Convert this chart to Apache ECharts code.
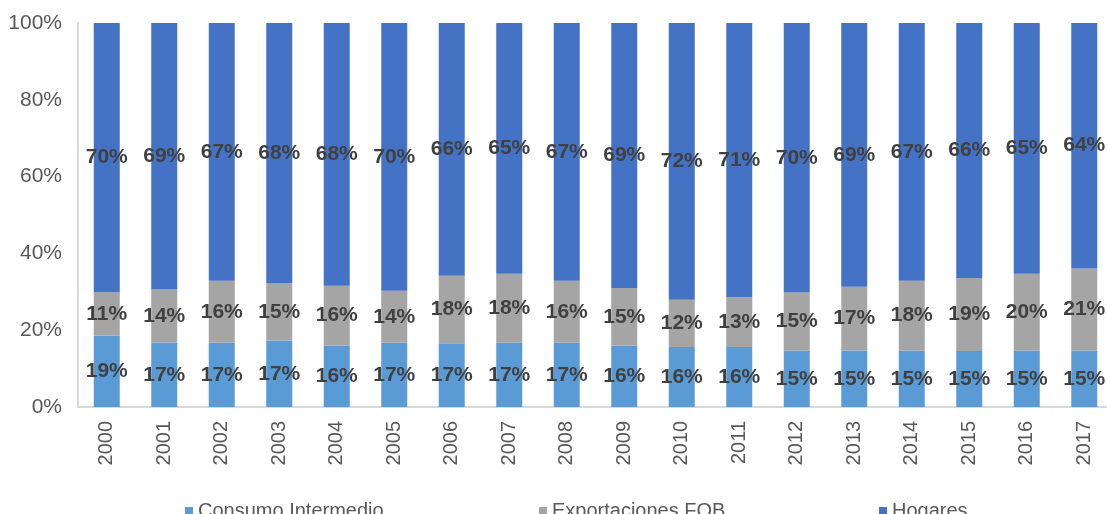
<!DOCTYPE html>
<html>
<head>
<meta charset="utf-8">
<script src="https://cdn.jsdelivr.net/npm/echarts@6/dist/echarts.min.js"></script>
<style>
  html, body { margin: 0; padding: 0; background: #fff; }
  #chart { width: 1107px; height: 514px; }
</style>
</head>
<body>
<div id="chart"></div>
<script>
const years = ['2000', '2001', '2002', '2003', '2004', '2005', '2006', '2007', '2008',
  '2009', '2010', '2011', '2012', '2013', '2014', '2015', '2016', '2017'];

// shares in %
const consumoIntermedio = [18.6, 16.8, 16.7, 17.3, 16.0, 16.7, 16.6, 16.7, 16.7,
  16.0, 15.6, 15.6, 14.7, 14.7, 14.7, 14.6, 14.7, 14.7];
const exportacionesFob = [11.3, 13.8, 16.2, 15.0, 15.6, 13.6, 17.6, 18.0, 16.2,
  15.0, 12.3, 13.0, 15.1, 16.6, 18.2, 19.0, 20.0, 21.4];
const hogares = [70.1, 69.4, 67.1, 67.7, 68.4, 69.7, 65.8, 65.3, 67.1,
  69.0, 72.1, 71.4, 70.2, 68.7, 67.1, 66.4, 65.3, 63.9];

const yTicks = [0, 20, 40, 60, 80, 100];

const colors = {
  consumo: '#5B9BD5',
  export:  '#A5A5A5',
  hogares: '#4472C4',
  axis:    '#D9D9D9',
  text:    '#595959',
  label:   '#404040'
};

const chart = echarts.init(document.getElementById('chart'));

const labelStyle = {
  show: true,
  position: 'inside',
  color: colors.label,
  fontWeight: 'bold',
  fontSize: 21,
  fontFamily: 'Liberation Sans',
  formatter: p => Math.round(p.value) + '%'
};

function bar(name, data, color) {
  return {
    name: name,
    type: 'bar',
    stack: 'total',
    data: data,
    barWidth: 26,
    itemStyle: { color: color },
    label: labelStyle,
    emphasis: { disabled: true }
  };
}

const legendText = { color: colors.text, fontSize: 20, fontFamily: 'Liberation Sans' };

const option = {
  animation: false,
  backgroundColor: '#fff',
  grid: { left: 78, top: 23, width: 1035, height: 384, containLabel: false, outerBoundsMode: 'none' },
  legend: [
    { data: ['Consumo Intermedio'], left: 180, top: 496, icon: 'rect', itemWidth: 8, itemHeight: 8, itemGap: 2, textStyle: legendText },
    { data: ['Exportaciones FOB'], left: 534, top: 496, icon: 'rect', itemWidth: 8, itemHeight: 8, itemGap: 2, textStyle: legendText },
    { data: ['Hogares'], left: 874, top: 496, icon: 'rect', itemWidth: 8, itemHeight: 8, itemGap: 2, textStyle: legendText }
  ],
  xAxis: {
    type: 'category',
    data: years,
    axisTick: { show: false },
    axisLine: { show: true, lineStyle: { color: colors.axis, width: 2 } },
    axisLabel: { rotate: 90, color: colors.text, fontSize: 20, fontFamily: 'Liberation Sans', margin: 14 }
  },
  yAxis: {
    type: 'value',
    min: yTicks[0],
    max: yTicks[yTicks.length - 1],
    interval: yTicks[1] - yTicks[0],
    axisLine: { show: true, lineStyle: { color: colors.axis, width: 2 } },
    axisTick: { show: false },
    splitLine: { show: false },
    axisLabel: { color: colors.text, fontSize: 21, fontFamily: 'Liberation Sans', margin: 16, formatter: '{value}%' }
  },
  series: [
    bar('Consumo Intermedio', consumoIntermedio, colors.consumo),
    bar('Exportaciones FOB', exportacionesFob, colors.export),
    bar('Hogares', hogares, colors.hogares)
  ]
};

chart.setOption(option);
window.addEventListener('resize', () => chart.resize());
</script>
</body>
</html>
